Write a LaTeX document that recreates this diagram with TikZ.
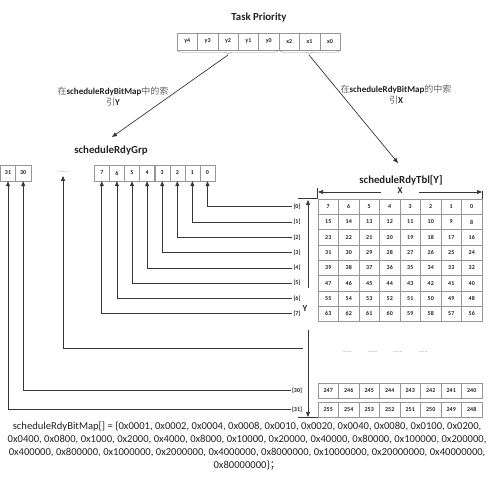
\documentclass[tikz,border=0pt]{standalone}
\usepackage{fontspec}
\setmainfont{Carlito}
\newfontfamily\cjk{Noto Sans CJK SC}
\usetikzlibrary{arrows.meta, decorations.pathreplacing}
\definecolor{boxgray}{RGB}{150,150,150}
\definecolor{linedark}{RGB}{55,55,55}
\definecolor{textdark}{RGB}{35,35,35}
\definecolor{cjkgray}{RGB}{100,100,100}
\newcommand{\zh}[1]{{\cjk\mdseries\color{cjkgray}#1}}

\begin{document}
\begin{tikzpicture}[
    x=1pt, y=-1pt,
    prio/.style={rectangle, draw=boxgray, minimum width=20.4pt, minimum height=17pt, inner sep=0pt, font=\fontsize{6}{6}\selectfont\bfseries, text=textdark},
    grpcell/.style={prio, minimum width=15.2pt, minimum height=16pt},
    tblcell/.style={prio, minimum width=20.5pt, minimum height=15.3pt},
    rowlab/.style={inner sep=1pt, font=\fontsize{6}{6}\selectfont\bfseries, text=textdark},
    heading/.style={font=\fontsize{10.8}{12}\selectfont\bfseries, text=textdark},
    note/.style={align=center, font=\fontsize{9}{11}\selectfont\bfseries, text=textdark},
    ellip/.style={font=\fontsize{6}{6}\selectfont, text=gray},
    dimlab/.style={inner sep=0pt, font=\fontsize{9}{10}\selectfont\bfseries, text=textdark},
    arrow/.style={-{Triangle[length=5pt, width=4pt]}, draw=linedark, line width=0.7pt},
    ext/.style={draw=linedark, line width=0.7pt},
    prbrace/.style={draw=boxgray, decorate, decoration={brace, mirror, amplitude=4pt}}
]
    \useasboundingbox (0,0) rectangle (495,482);

    % Task Priority
    \node[heading] (prtitle) at (259,18) {Task Priority};
    \foreach \t [count=\i from 0] in {y4,y3,y2,y1,y0,x2,x1,x0}
        \node[prio] (p\i) at (187.2+20.4*\i,41.5) {\t};
    \draw[prbrace] ([xshift=0.5pt]p0.south west) -- ([xshift=-0.5pt]p4.south east);
    \draw[prbrace] ([xshift=0.5pt]p5.south west) -- ([xshift=-0.5pt]p7.south east);
    \coordinate (ytip) at (228,55);
    \coordinate (xtip) at (309,55);

    % Index notes
    \node[note] (ynote) at (113,97) {\zh{在}scheduleRdyBitMap\zh{中的索}\\\zh{引}Y};
    \node[note] (xnote) at (396,95) {\zh{在}scheduleRdyBitMap\zh{的中索}\\\zh{引}X};

    % scheduleRdyGrp
    \node[heading] (grptitle) at (111,151) {scheduleRdyGrp};
    \coordinate (grpin) at (112,137);
    \node[grpcell] (g31) at (8,173) {31};
    \node[grpcell] (g30) at (23.2,173) {30};
    \node[ellip] (gdots) at (63,172) {......};
    \foreach \k in {0,...,7}
        \node[grpcell] (g\k) at (207.5-15.1*\k,173) {\k};

    % scheduleRdyTbl
    \node[heading] (tbltitle) at (401,180) {scheduleRdyTbl[Y]};
    \coordinate (tblin) at (398,163);
    \foreach \r in {0,...,7}
        \foreach \c in {0,...,7} {
            \pgfmathtruncatemacro\v{8*\r+7-\c}
            \node[tblcell] (t\r-\c) at (328.25+20.5*\c,206.65+15.3*\r) {\v};
        }
    \foreach \c in {0,...,7} {
        \pgfmathtruncatemacro\v{247-\c}
        \node[tblcell] (t30-\c) at (328.25+20.5*\c,390.5) {\v};
        \pgfmathtruncatemacro\v{255-\c}
        \node[tblcell] (t31-\c) at (328.25+20.5*\c,409.8) {\v};
    }
    \foreach \x [count=\i] in {347,373,398,423}
        \node[ellip] (tdots\i) at (\x,352) {......};

    % Row labels
    \foreach \r in {0,...,7}
        \node[rowlab] (r\r) at (297,206.65+15.3*\r) {[\r]};
    \node[rowlab] (r30) at (297,390.5) {[30]};
    \node[rowlab] (r31) at (297,409.8) {[31]};

    % Priority to tables
    \draw[arrow] (ytip) -- (grpin);
    \draw[arrow] (xtip) -- (tblin);

    % Rows to scheduleRdyGrp bits
    \foreach \r in {0,...,7}
        \draw[arrow] (r\r.west) -| (g\r.south);
    \draw[arrow] (r30.west) -| (g30.south);
    \draw[arrow] (r31.west) -| (g31.south);
    \coordinate (dotsend) at (303,348);
    \draw[arrow] (dotsend) -| (gdots.south);

    % X dimension
    \node[dimlab, minimum width=37pt] (Xlab) at (400,191) {X};
    \coordinate (xl) at (318,192);
    \coordinate (xr) at (482,192);
    \draw[arrow] (Xlab.west |- xl) -- (xl);
    \draw[arrow] (Xlab.east |- xr) -- (xr);
    \draw[ext] (t0-0.north west) -- ++(0,-11);
    \draw[ext] (t0-7.north east) -- ++(0,-8);

    % Y dimension
    \node[dimlab, minimum height=42pt] (Ylab) at (305,309) {Y};
    \coordinate (yt) at (308,200);
    \coordinate (yb) at (308,417);
    \draw[arrow] (Ylab.north -| yt) -- (yt);
    \draw[arrow] (Ylab.south -| yb) -- (yb);
    \draw[ext] (t0-0.north west) -- ++(-20,0);
    \draw[ext] (t31-0.south west) -- ++(-20,0);

    % Bitmap values
    \node[align=center, inner sep=0pt, font=\fontsize{10.6}{12.7}\selectfont, text=textdark] (bitmap) at (247,446)
        {scheduleRdyBitMap[] = \{0x0001, 0x0002, 0x0004, 0x0008, 0x0010, 0x0020, 0x0040, 0x0080, 0x0100, 0x0200,\\
         0x0400, 0x0800, 0x1000, 0x2000, 0x4000, 0x8000, 0x10000, 0x20000, 0x40000, 0x80000, 0x100000, 0x200000,\\
         0x400000, 0x800000, 0x1000000, 0x2000000, 0x4000000, 0x8000000, 0x10000000, 0x20000000, 0x40000000,\\
         0x80000000\}{\cjk ；}};
\end{tikzpicture}
\end{document}
